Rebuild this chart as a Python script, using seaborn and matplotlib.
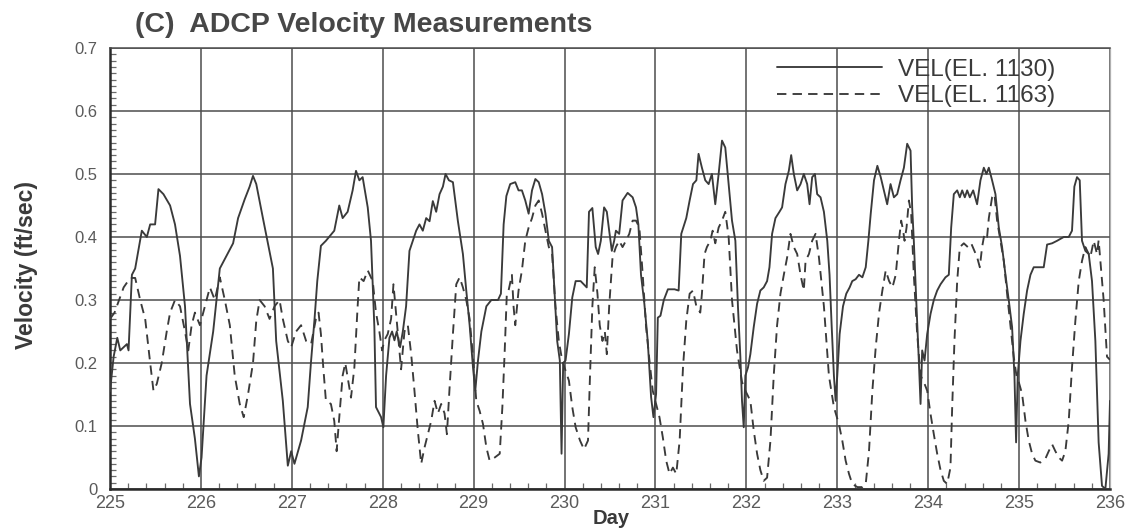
import matplotlib
matplotlib.use("Agg")
import matplotlib.pyplot as plt
from matplotlib.ticker import MultipleLocator, FixedLocator
import pandas as pd
import seaborn as sns

# ADCP velocity record, elevation 1130 (solid trace)
day_el1130 = [
    225.000, 225.040, 225.080, 225.113, 225.186, 225.204, 225.241, 225.277, 225.350, 225.405,
    225.442, 225.496, 225.533, 225.588, 225.661, 225.715, 225.770, 225.825, 225.880, 225.934,
    225.978, 226.007, 226.062, 226.135, 226.208, 226.281, 226.354, 226.409, 226.482, 226.536,
    226.573, 226.609, 226.682, 226.792, 226.828, 226.901, 226.956, 226.993, 227.029, 227.102,
    227.175, 227.210, 227.250, 227.280, 227.320, 227.375, 227.467, 227.522, 227.559, 227.614,
    227.669, 227.706, 227.743, 227.779, 227.835, 227.871, 227.908, 227.926, 227.982, 228.007,
    228.037, 228.074, 228.103, 228.129, 228.154, 228.191, 228.221, 228.257, 228.294, 228.368,
    228.404, 228.441, 228.478, 228.515, 228.551, 228.588, 228.625, 228.662, 228.691, 228.728,
    228.772, 228.827, 228.882, 228.919, 228.956, 228.993, 229.018, 229.048, 229.085, 229.140,
    229.195, 229.268, 229.300, 229.330, 229.360, 229.402, 229.458, 229.494, 229.531, 229.568,
    229.605, 229.642, 229.679, 229.716, 229.753, 229.790, 229.827, 229.863, 229.889, 229.919,
    229.948, 229.967, 229.985, 230.011, 230.048, 230.085, 230.122, 230.177, 230.244, 230.269,
    230.306, 230.343, 230.369, 230.399, 230.435, 230.465, 230.491, 230.520, 230.546, 230.565,
    230.601, 230.638, 230.694, 230.749, 230.786, 230.812, 230.841, 230.878, 230.915, 230.952,
    230.978, 231.007, 231.026, 231.055, 231.092, 231.137, 231.210, 231.255, 231.284, 231.339,
    231.376, 231.413, 231.450, 231.474, 231.511, 231.548, 231.585, 231.621, 231.658, 231.695,
    231.732, 231.768, 231.805, 231.842, 231.879, 231.908, 231.934, 231.952, 231.971, 231.989,
    232.018, 232.044, 232.081, 232.118, 232.154, 232.191, 232.228, 232.254, 232.283, 232.320,
    232.364, 232.393, 232.430, 232.467, 232.493, 232.522, 232.559, 232.596, 232.632, 232.669,
    232.695, 232.724, 232.754, 232.779, 232.816, 232.853, 232.890, 232.915, 232.938, 232.963,
    232.982, 233.000, 233.026, 233.063, 233.099, 233.136, 233.165, 233.202, 233.239, 233.276,
    233.313, 233.342, 233.368, 233.404, 233.441, 233.478, 233.513, 233.549, 233.586, 233.623,
    233.659, 233.696, 233.733, 233.769, 233.806, 233.824, 233.842, 233.872, 233.897, 233.916,
    233.934, 233.960, 233.989, 234.026, 234.062, 234.099, 234.136, 234.190, 234.227, 234.253,
    234.282, 234.319, 234.348, 234.374, 234.403, 234.429, 234.458, 234.495, 234.538, 234.575,
    234.612, 234.641, 234.667, 234.703, 234.740, 234.777, 234.813, 234.850, 234.886, 234.923,
    234.949, 234.967, 234.985, 235.015, 235.051, 235.088, 235.125, 235.161, 235.216, 235.271,
    235.308, 235.363, 235.418, 235.491, 235.546, 235.582, 235.608, 235.637, 235.667, 235.692,
    235.729, 235.766, 235.802, 235.839, 235.875, 235.912, 235.949, 235.985, 236.000,
]
vel_el1130 = [
    0.155, 0.21, 0.24, 0.22, 0.23, 0.22, 0.34, 0.35, 0.41, 0.40,
    0.42, 0.42, 0.476, 0.468, 0.45, 0.42, 0.37, 0.29, 0.135, 0.08,
    0.02, 0.05, 0.18, 0.25, 0.35, 0.37, 0.39, 0.43, 0.46, 0.48,
    0.497, 0.484, 0.43, 0.35, 0.235, 0.14, 0.037, 0.06, 0.04, 0.077,
    0.13, 0.20, 0.27, 0.33, 0.386, 0.394, 0.41, 0.45, 0.43, 0.44,
    0.474, 0.505, 0.49, 0.495, 0.447, 0.394, 0.257, 0.13, 0.114, 0.098,
    0.18, 0.24, 0.25, 0.236, 0.25, 0.225, 0.25, 0.29, 0.378, 0.41,
    0.42, 0.41, 0.43, 0.425, 0.457, 0.44, 0.468, 0.48, 0.50, 0.49,
    0.487, 0.425, 0.373, 0.315, 0.26, 0.193, 0.156, 0.204, 0.25, 0.29,
    0.30, 0.30, 0.31, 0.42, 0.465, 0.484, 0.487, 0.474, 0.474, 0.458,
    0.437, 0.474, 0.492, 0.487, 0.468, 0.437, 0.394, 0.384, 0.315, 0.235,
    0.204, 0.056, 0.20, 0.204, 0.246, 0.304, 0.33, 0.33, 0.32, 0.44,
    0.446, 0.384, 0.373, 0.394, 0.447, 0.44, 0.41, 0.378, 0.394, 0.41,
    0.405, 0.458, 0.47, 0.463, 0.447, 0.42, 0.34, 0.294, 0.235, 0.146,
    0.114, 0.151, 0.272, 0.275, 0.30, 0.317, 0.317, 0.315, 0.405, 0.43,
    0.458, 0.484, 0.49, 0.532, 0.51, 0.49, 0.484, 0.50, 0.452, 0.50,
    0.553, 0.542, 0.484, 0.426, 0.394, 0.288, 0.21, 0.14, 0.098, 0.18,
    0.193, 0.214, 0.257, 0.294, 0.315, 0.32, 0.33, 0.352, 0.405, 0.43,
    0.44, 0.447, 0.484, 0.505, 0.53, 0.50, 0.474, 0.484, 0.50, 0.484,
    0.452, 0.495, 0.50, 0.468, 0.463, 0.44, 0.394, 0.34, 0.26, 0.18,
    0.14, 0.18, 0.246, 0.29, 0.31, 0.32, 0.33, 0.333, 0.34, 0.336,
    0.352, 0.394, 0.437, 0.49, 0.513, 0.495, 0.474, 0.452, 0.484, 0.463,
    0.468, 0.49, 0.51, 0.548, 0.537, 0.447, 0.394, 0.288, 0.204, 0.135,
    0.22, 0.204, 0.246, 0.278, 0.30, 0.315, 0.325, 0.336, 0.34, 0.415,
    0.468, 0.474, 0.463, 0.474, 0.463, 0.474, 0.463, 0.474, 0.452, 0.49,
    0.51, 0.50, 0.51, 0.49, 0.468, 0.415, 0.384, 0.34, 0.30, 0.257,
    0.18, 0.074, 0.18, 0.235, 0.278, 0.315, 0.34, 0.352, 0.352, 0.352,
    0.388, 0.39, 0.394, 0.40, 0.40, 0.41, 0.48, 0.495, 0.49, 0.394,
    0.378, 0.373, 0.33, 0.235, 0.074, 0.005, 0.0, 0.056, 0.14,
]

# ADCP velocity record, elevation 1163 (dashed trace)
day_el1163 = [
    225.000, 225.050, 225.100, 225.150, 225.222, 225.277, 225.332, 225.387, 225.442, 225.478,
    225.515, 225.569, 225.624, 225.661, 225.715, 225.770, 225.825, 225.861, 225.898, 225.934,
    225.989, 226.044, 226.099, 226.153, 226.208, 226.263, 226.318, 226.372, 226.427, 226.471,
    226.518, 226.573, 226.609, 226.646, 226.701, 226.755, 226.810, 226.865, 226.901, 226.956,
    226.993, 227.047, 227.102, 227.157, 227.212, 227.265, 227.294, 227.320, 227.346, 227.375,
    227.430, 227.467, 227.493, 227.522, 227.559, 227.588, 227.614, 227.651, 227.688, 227.724,
    227.743, 227.790, 227.835, 227.890, 227.926, 227.963, 227.993, 228.018, 228.055, 228.092,
    228.118, 228.140, 228.165, 228.202, 228.239, 228.276, 228.313, 228.349, 228.386, 228.423,
    228.460, 228.496, 228.533, 228.570, 228.607, 228.643, 228.680, 228.706, 228.735, 228.772,
    228.809, 228.846, 228.882, 228.919, 228.956, 228.993, 229.029, 229.066, 229.103, 229.140,
    229.176, 229.232, 229.287, 229.316, 229.342, 229.365, 229.384, 229.421, 229.439, 229.458,
    229.494, 229.531, 229.568, 229.605, 229.642, 229.679, 229.716, 229.753, 229.790, 229.827,
    229.863, 229.900, 229.937, 229.974, 230.011, 230.048, 230.085, 230.122, 230.170, 230.214,
    230.258, 230.280, 230.306, 230.332, 230.362, 230.387, 230.417, 230.443, 230.465, 230.491,
    230.528, 230.565, 230.601, 230.638, 230.675, 230.712, 230.749, 230.786, 230.823, 230.860,
    230.897, 230.934, 230.970, 231.007, 231.044, 231.081, 231.118, 231.155, 231.192, 231.229,
    231.266, 231.303, 231.339, 231.376, 231.413, 231.450, 231.493, 231.511, 231.540, 231.566,
    231.603, 231.629, 231.658, 231.695, 231.732, 231.768, 231.805, 231.842, 231.897, 231.952,
    231.989, 232.044, 232.081, 232.118, 232.154, 232.191, 232.228, 232.265, 232.301, 232.338,
    232.375, 232.412, 232.449, 232.485, 232.522, 232.559, 232.596, 232.632, 232.651, 232.688,
    232.724, 232.761, 232.798, 232.853, 232.908, 232.963, 233.018, 233.055, 233.092, 233.129,
    233.165, 233.221, 233.276, 233.313, 233.349, 233.386, 233.423, 233.460, 233.496, 233.533,
    233.570, 233.607, 233.643, 233.678, 233.703, 233.725, 233.740, 233.762, 233.788, 233.813,
    233.842, 233.879, 233.916, 233.952, 233.989, 234.026, 234.062, 234.099, 234.136, 234.172,
    234.209, 234.245, 234.264, 234.289, 234.319, 234.348, 234.392, 234.436, 234.473, 234.509,
    234.538, 234.568, 234.593, 234.619, 234.648, 234.667, 234.703, 234.729, 234.758, 234.795,
    234.832, 234.868, 234.905, 234.941, 234.971, 234.996, 235.033, 235.070, 235.106, 235.143,
    235.179, 235.234, 235.289, 235.326, 235.363, 235.399, 235.436, 235.473, 235.509, 235.546,
    235.582, 235.619, 235.656, 235.692, 235.729, 235.766, 235.784, 235.821, 235.857, 235.875,
    235.930, 235.967, 236.000,
]
vel_el1163 = [
    0.27, 0.28, 0.30, 0.32, 0.335, 0.335, 0.30, 0.27, 0.20, 0.156,
    0.167, 0.20, 0.25, 0.28, 0.30, 0.29, 0.25, 0.22, 0.26, 0.28,
    0.26, 0.29, 0.32, 0.30, 0.336, 0.30, 0.26, 0.18, 0.135, 0.114,
    0.15, 0.20, 0.267, 0.30, 0.29, 0.27, 0.29, 0.30, 0.27, 0.235,
    0.225, 0.25, 0.26, 0.235, 0.23, 0.27, 0.28, 0.246, 0.193, 0.14,
    0.135, 0.108, 0.06, 0.114, 0.18, 0.20, 0.177, 0.145, 0.193, 0.29,
    0.336, 0.33, 0.347, 0.33, 0.28, 0.25, 0.22, 0.236, 0.246, 0.27,
    0.325, 0.29, 0.25, 0.19, 0.25, 0.26, 0.214, 0.156, 0.093, 0.04,
    0.066, 0.087, 0.108, 0.14, 0.12, 0.135, 0.12, 0.087, 0.16, 0.246,
    0.325, 0.336, 0.32, 0.30, 0.27, 0.21, 0.14, 0.124, 0.103, 0.066,
    0.045, 0.05, 0.056, 0.13, 0.22, 0.31, 0.315, 0.34, 0.29, 0.26,
    0.315, 0.347, 0.394, 0.415, 0.43, 0.45, 0.458, 0.437, 0.41, 0.384,
    0.373, 0.29, 0.235, 0.204, 0.188, 0.172, 0.13, 0.098, 0.077, 0.063,
    0.077, 0.18, 0.29, 0.352, 0.31, 0.26, 0.235, 0.25, 0.214, 0.29,
    0.368, 0.384, 0.394, 0.384, 0.394, 0.405, 0.426, 0.426, 0.415, 0.34,
    0.257, 0.204, 0.156, 0.135, 0.114, 0.082, 0.045, 0.024, 0.034, 0.024,
    0.077, 0.193, 0.267, 0.31, 0.315, 0.29, 0.28, 0.31, 0.373, 0.384,
    0.394, 0.41, 0.39, 0.415, 0.426, 0.44, 0.40, 0.30, 0.22, 0.17,
    0.156, 0.14, 0.093, 0.056, 0.03, 0.013, 0.018, 0.077, 0.18, 0.26,
    0.31, 0.34, 0.368, 0.405, 0.384, 0.373, 0.34, 0.315, 0.362, 0.373,
    0.394, 0.405, 0.368, 0.29, 0.18, 0.13, 0.103, 0.077, 0.045, 0.024,
    0.008, 0.003, 0.003, 0.008, 0.06, 0.156, 0.225, 0.28, 0.315, 0.347,
    0.33, 0.32, 0.34, 0.394, 0.426, 0.41, 0.394, 0.415, 0.458, 0.437,
    0.34, 0.246, 0.18, 0.17, 0.156, 0.119, 0.087, 0.056, 0.03, 0.013,
    0.008, 0.034, 0.13, 0.235, 0.33, 0.384, 0.39, 0.384, 0.39, 0.378,
    0.368, 0.352, 0.384, 0.405, 0.40, 0.43, 0.463, 0.468, 0.426, 0.394,
    0.362, 0.31, 0.26, 0.21, 0.18, 0.17, 0.151, 0.108, 0.077, 0.056,
    0.045, 0.042, 0.048, 0.06, 0.071, 0.06, 0.05, 0.045, 0.06, 0.108,
    0.193, 0.267, 0.33, 0.362, 0.384, 0.373, 0.368, 0.394, 0.373, 0.395,
    0.30, 0.21, 0.205,
]

series_labels = ["VEL(EL. 1130)", "VEL(EL. 1163)"]
x_ticks = list(range(225, 237))
x_tick_labels = [str(d) for d in x_ticks]
y_ticks = [0.0, 0.1, 0.2, 0.3, 0.4, 0.5, 0.6, 0.7]
y_tick_labels = ["0", "0.1", "0.2", "0.3", "0.4", "0.5", "0.6", "0.7"]

sns.set_theme(style="white")
plt.rcParams["font.family"] = ["Liberation Sans", "DejaVu Sans"]

ink = "#3a3a3a"
grid_c = "#4d4d4d"
tick_c = "#5a5a5a"

fig = plt.figure(figsize=(11.29, 5.29), dpi=100)
ax = fig.add_axes([110 / 1129, 1 - 489 / 529, 1000 / 1129, 441 / 529])

df1130 = pd.DataFrame({"day": day_el1130, "vel": vel_el1130})
df1163 = pd.DataFrame({"day": day_el1163, "vel": vel_el1163})

sns.lineplot(data=df1130, x="day", y="vel", ax=ax, color=ink, linewidth=1.35,
             sort=False, estimator=None, label=series_labels[0], zorder=3)
sns.lineplot(data=df1163, x="day", y="vel", ax=ax, color=ink, linewidth=1.35,
             linestyle=(0, (5, 3.3)), sort=False, estimator=None,
             label=series_labels[1], zorder=3)

ax.set_xlim(225, 236)
ax.set_ylim(0, 0.7)
ax.xaxis.set_major_locator(FixedLocator(x_ticks))
ax.set_xticklabels(x_tick_labels)
ax.yaxis.set_major_locator(FixedLocator(y_ticks))
ax.set_yticklabels(y_tick_labels)
ax.xaxis.set_minor_locator(MultipleLocator(0.2))
ax.yaxis.set_minor_locator(MultipleLocator(0.01))

ax.grid(True, which="major", color=grid_c, linewidth=1.1, zorder=1)
ax.set_axisbelow(True)

ax.tick_params(axis="both", which="major", direction="in", length=6, width=1.1,
               color=ink, labelcolor=tick_c)
ax.tick_params(axis="x", which="major", pad=4, labelsize=13)
ax.tick_params(axis="y", which="major", pad=9, labelsize=12)
ax.tick_params(axis="both", which="minor", direction="in", length=4, width=0.9,
               color="#6a6a6a")
ax.tick_params(axis="x", which="minor", bottom=True)
ax.tick_params(axis="y", which="minor", left=True)

for side in ("left", "bottom"):
    ax.spines[side].set_color("#2a2a2a")
    ax.spines[side].set_linewidth(1.8)
ax.spines["top"].set_color(grid_c)
ax.spines["top"].set_linewidth(1.1)
ax.spines["right"].set_color("#b0b0b0")
ax.spines["right"].set_linewidth(0.9)

ax.set_xlabel("Day", fontsize=14.5, fontweight="bold", color=ink)
ax.xaxis.set_label_coords(0.501, -0.046)
ax.set_ylabel("Velocity (ft/sec)", fontsize=16.5, fontweight="bold", color=ink)
ax.yaxis.set_label_coords(-0.072, 0.508)

fig.text(135 / 1129, 1 - 25 / 529, "(C)  ADCP Velocity Measurements",
         fontsize=20.5, fontweight="bold", color="#474747", ha="left", va="center")

leg = ax.legend(loc="upper left", bbox_to_anchor=(0.667, 0.976), frameon=False,
                fontsize=17.5, handlelength=4.3, handletextpad=0.66,
                labelspacing=0.2, borderaxespad=0, borderpad=0)
for txt in leg.get_texts():
    txt.set_color(ink)

fig.savefig("out.png", dpi=100, facecolor="white")
